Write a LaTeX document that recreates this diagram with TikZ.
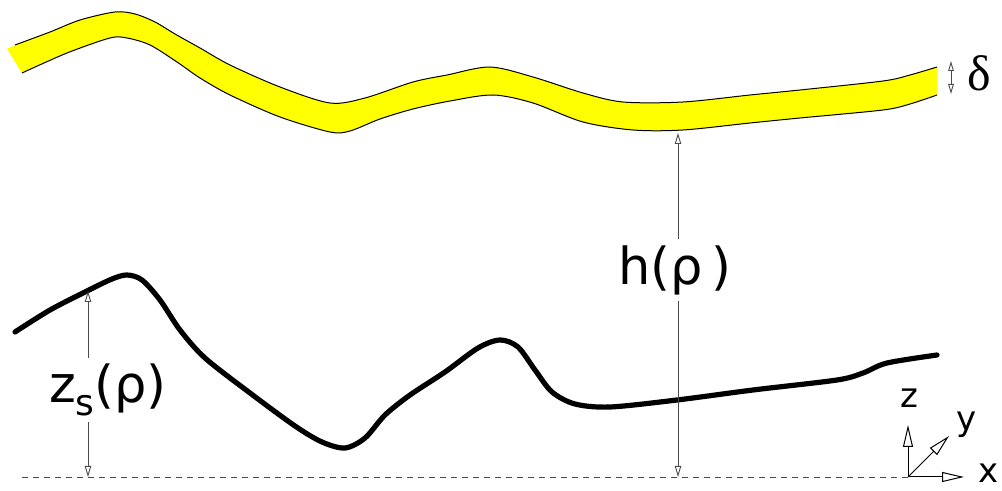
\documentclass[tikz,border=0pt]{standalone}
\usepackage{fontspec}
\setmainfont{DejaVu Sans}
\newfontfamily\deltafont{Liberation Serif}
\usetikzlibrary{arrows.meta,calc}
\definecolor{filmyellow}{HTML}{FFFF00}
\definecolor{inkgrey}{HTML}{4A4A4A}
\tikzset{
  % ---- curves ---------------------------------------------------------
  film/.style={fill=filmyellow, draw=none},
  filmedge/.style={draw=black, line width=0.5pt},
  surf/.style={draw=black, line width=2.6pt, line cap=round},
  ground/.style={draw=inkgrey, line width=0.45pt, dash pattern=on 3pt off 2.5pt},
  % ---- dimensions -----------------------------------------------------
  mdim/.style={-{Triangle[open,length=5.5pt,width=3.2pt]}, draw=inkgrey, line width=0.45pt},
  mgap/.style={{Triangle[open,length=5pt,width=2.8pt]}-{Triangle[open,length=5pt,width=2.8pt]},
               draw=inkgrey, line width=0.45pt},
  mlabel/.style={inner xsep=1pt, inner ysep=3pt, font=\fontsize{25.5}{30}\selectfont},
  % ---- axes -----------------------------------------------------------
  axis/.style={-{Triangle[open,length=11pt,width=5pt]}, draw=black, line width=0.5pt},
  axlabel/.style={inner sep=0pt, font=\fontsize{17}{19}\selectfont},
}

\begin{document}
\begin{tikzpicture}[x=0.5pt, y=-0.5pt]
\useasboundingbox (0,0) rectangle (1002,491);

% ---- film ------------------------------------------------------------
\fill[film] (7,49) -- plot[smooth] coordinates {
  (15,45) (50,32) (80,20) (115,12) (135,14) (155,22) (175,34) (200,48)
  (230,65) (280,87) (330,103) (365,98) (413,82) (447,75)
  (490,67) (533,77) (583,93) (623,102) (683,102) (750,95) (800,90)
  (883,81) (910,75) (937,67)}
  -- plot[smooth] coordinates {
  (937,95) (910,104) (883,110) (800,118) (750,123) (683,130) (633,130)
  (583,122) (533,103) (493,95) (450,101) (413,109) (380,119) (350,131)
  (330,132) (280,117) (230,95) (200,78) (177,62) (150,45) (127,38)
  (110,38) (67,53) (22,73)} -- cycle;
\draw[filmedge] plot[smooth] coordinates {
  (15,45) (50,32) (80,20) (115,12) (135,14) (155,22) (175,34) (200,48)
  (230,65) (280,87) (330,103) (365,98) (413,82) (447,75)
  (490,67) (533,77) (583,93) (623,102) (683,102) (750,95) (800,90)
  (883,81) (910,75) (937,67)};
\draw[filmedge] plot[smooth] coordinates {
  (22,73) (67,53) (110,38) (127,38) (150,45) (177,62) (200,78) (230,95)
  (280,117) (330,132) (350,131) (380,119) (413,109) (450,101) (493,95)
  (533,103) (583,122) (633,130) (683,130) (750,123) (800,118) (883,110)
  (910,104) (937,95)};

% ---- surface ---------------------------------------------------------
\draw[surf] plot[smooth] coordinates {
  (15,332) (50,310) (87,291) (112,279) (127,275) (142,280) (160,300)
  (180,330) (205,358) (250,393) (295,426) (322,442) (345,448) (365,438)
  (385,415) (410,395) (445,372) (478,348) (500,340) (518,347) (535,370)
  (552,392) (575,404) (610,407) (677,400) (753,390) (837,380) (863,373)
  (887,363) (937,355)};

% ---- ground line and axes --------------------------------------------
\coordinate (orig) at (908,477);
\coordinate (zEnd) at (908,425);
\coordinate (yEnd) at (949,436);
\coordinate (xEnd) at (964,477);
\draw[ground] (22,477) -- (orig);
\draw[axis] (orig) -- (zEnd);
\draw[axis] (orig) -- (yEnd);
\draw[axis] (orig) -- (xEnd);
\node[axlabel] (zLab) at (909,398) {z};
\node[axlabel] (yLab) at (967,425) {y};
\node[axlabel] (xLab) at (989,473) {x};

% ---- z_s(rho) --------------------------------------------------------
\coordinate (zsTop) at (88,291);
\coordinate (zsBase) at (88,477);
\node[mlabel] (zsLab) at (108,390)
  {z\raisebox{-0.45ex}{\fontsize{18}{18}\selectfont s}(ρ)};
\draw[mdim] (zsLab.north -| zsTop) -- (zsTop);
\draw[mdim] (zsLab.south -| zsBase) -- (zsBase);

% ---- h(rho) ----------------------------------------------------------
\coordinate (hTop) at (678,133);
\coordinate (hBase) at (678,477);
\node[mlabel] (hLab) at (675,270) {h(ρ\,)};
\draw[mdim] (hLab.north -| hTop) -- (hTop);
\draw[mdim] (hLab.south -| hBase) -- (hBase);

% ---- delta -----------------------------------------------------------
\coordinate (dTop) at (951,61);
\coordinate (dBot) at (951,94);
\draw[mgap] (dTop) -- (dBot);
\node[inner sep=0pt, font=\deltafont\fontsize{25}{28}\selectfont] (dLab) at (979,73) {δ};

\end{tikzpicture}
\end{document}
